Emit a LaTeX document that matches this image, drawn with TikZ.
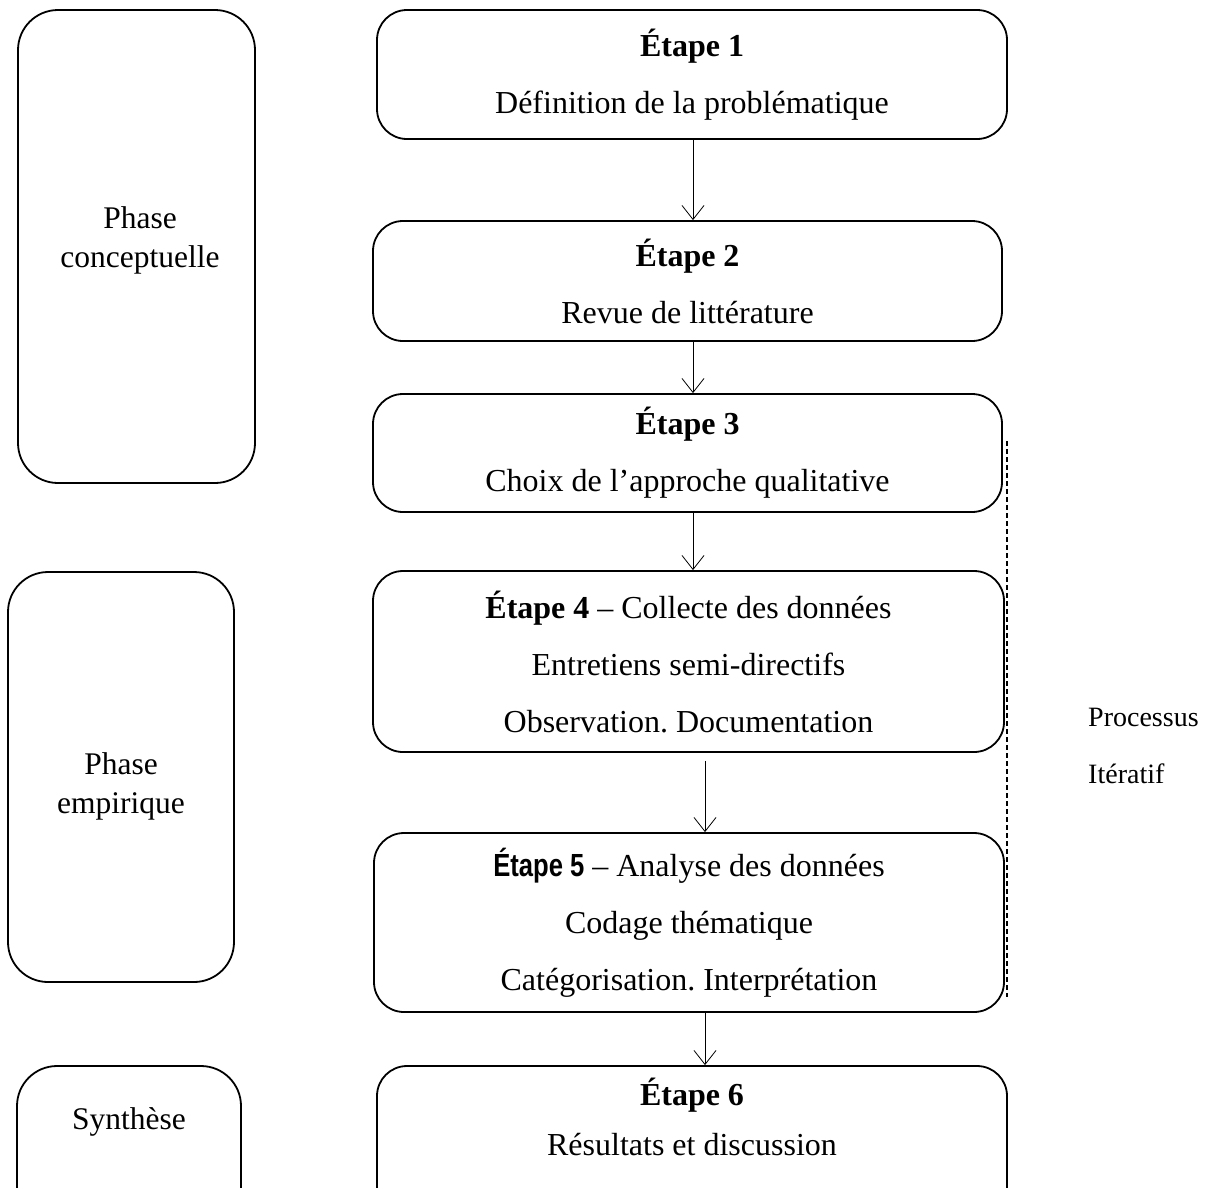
\documentclass[tikz,border=0pt]{standalone}
\usepackage{fontspec}
\setmainfont{Liberation Serif}
\newfontfamily\narrowsans[FakeStretch=0.8]{Liberation Sans}
\usetikzlibrary{arrows.meta,calc}
\frenchspacing
\begin{document}
\begin{tikzpicture}[x=1pt,y=-1pt,
  stepbox/.style={draw,line width=1.8pt,rounded corners=30pt,align=center,inner sep=0pt,
    font=\fontsize{32}{57}\selectfont},
  phasebox/.style={draw,line width=1.8pt,rounded corners=40pt,inner sep=0pt},
  phasetxt/.style={align=center,inner sep=0pt,font=\fontsize{31.5}{39}\selectfont},
  flow/.style={line width=0.8pt,-{Straight Barb[length=14pt,width=22pt,line width=0.8pt]}},
  lbl/.style={font=\fontsize{28}{57}\selectfont,inner sep=0pt,anchor=base west}]
\useasboundingbox (0,0) rectangle (1207,1187);
% left phase boxes
\node[phasebox,minimum width=237pt,minimum height=473pt] (p1) at (136.5,246.5) {};
\node[phasetxt] (p1t) at (140,240) {Phase\\conceptuelle};
\node[phasebox,minimum width=226pt,minimum height=410pt] (p2) at (121,777) {};
\node[phasetxt] (p2t) at (121,786) {Phase\\empirique};
\node[phasebox,minimum width=224pt,minimum height=160pt] (p3) at (129,1146) {};
\node[phasetxt] (p3t) at (129,1122) {Synthèse};
% step boxes
\node[stepbox,minimum width=630pt,minimum height=129pt] (e1) at (692,74.5)
  {\textbf{Étape 1}\\Définition de la problématique};
\node[stepbox,minimum width=629pt,minimum height=120pt] (e2) at (687.5,281)
  {\textbf{Étape 2}\\Revue de littérature};
\node[stepbox,minimum width=629pt,minimum height=118pt] (e3) at (687.5,453)
  {\textbf{Étape 3}\\Choix de l’approche qualitative};
\node[stepbox,minimum width=631pt,minimum height=181pt] (e4) at (688.5,661.5)
  {\textbf{Étape 4} – Collecte des données\\Entretiens semi-directifs\\Observation. Documentation};
\node[stepbox,minimum width=630pt,minimum height=179pt] (e5) at (689,922.5)
  {{\narrowsans\bfseries Étape 5} – Analyse des données\\Codage thématique\\Catégorisation. Interprétation};
\node[stepbox,minimum width=630pt,minimum height=150pt] (e6) at (692,1141) {};
\node[stepbox,draw=none,font=\fontsize{32}{50}\selectfont] (e6t) at (692,1117)
  {\textbf{Étape 6}\\Résultats et discussion};
% arrows
\draw[flow] (e1.south -| 693,0) -- (e2.north -| 693,0);
\draw[flow] (e2.south -| 693,0) -- (e3.north -| 693,0);
\draw[flow] (e3.south -| 693,0) -- (e4.north -| 693,0);
\draw[flow] ($(e4.south -| 705,0)+(0,8)$) -- (e5.north -| 705,0);
\draw[flow] (e5.south -| 705,0) -- (e6.north -| 705,0);
% iterative process
\coordinate (itA) at (1007,441);
\coordinate (itB) at (1007,997);
\draw[line width=1.4pt,dash pattern=on 5pt off 3pt] (itA) -- (itB);
\node[lbl] (proc) at (1088,726) {Processus};
\node[lbl] (iter) at (1088,783) {Itératif};
\end{tikzpicture}
\end{document}
